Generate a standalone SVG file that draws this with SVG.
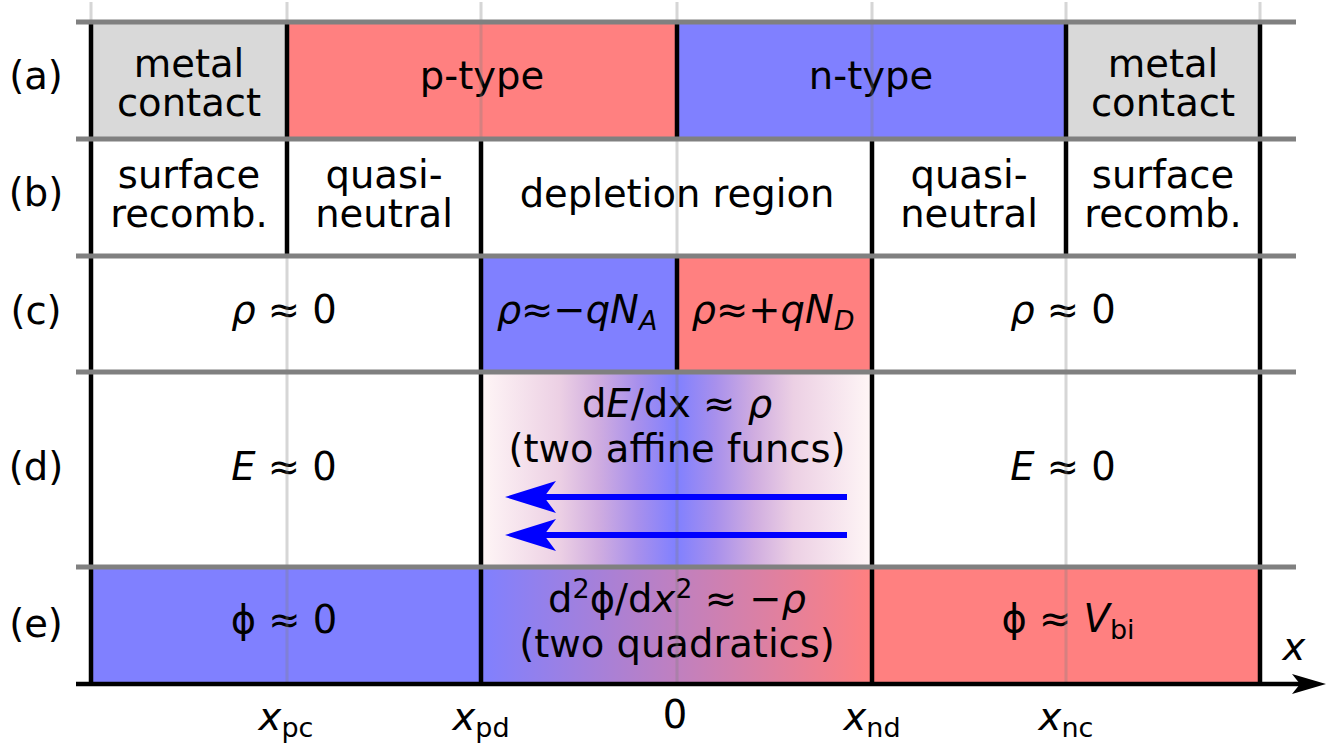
<svg xmlns="http://www.w3.org/2000/svg" width="1335" height="746" viewBox="0 0 1335 746">
<defs>
<style>
text{font-family:"DejaVu Sans","Liberation Sans",sans-serif;font-size:38.5px;fill:#000;text-anchor:middle}
.it{font-style:italic}
.sub{font-size:27px}
.red{fill:#ff8080}
.blue{fill:#8080ff}
.gray{fill:#d9d9d9}
.bl{stroke:#000;stroke-width:4.5;fill:none}
.gl{stroke:#808080;stroke-width:5;fill:none}
.fl{stroke:#808080;stroke-width:3;stroke-opacity:0.32;fill:none}
</style>
<linearGradient id="gd" x1="0" x2="1" y1="0" y2="0">
<stop offset="0" stop-color="#fff6f6"/>
<stop offset="0.2" stop-color="#ecd0e4"/>
<stop offset="0.3" stop-color="#d0ade0"/>
<stop offset="0.4" stop-color="#a890ec"/>
<stop offset="0.5" stop-color="#8080ff"/>
<stop offset="0.6" stop-color="#a890ec"/>
<stop offset="0.7" stop-color="#d0ade0"/>
<stop offset="0.8" stop-color="#ecd0e4"/>
<stop offset="1" stop-color="#fff6f6"/>
</linearGradient>
<linearGradient id="ge" x1="0" x2="1" y1="0" y2="0">
<stop offset="0" stop-color="#8080ff"/>
<stop offset="1" stop-color="#ff8080"/>
</linearGradient>
</defs>
<rect width="1335" height="746" fill="#fff"/>

<g id="row-a">
<g id="a-metal-left"><rect class="gray" x="91" y="22" width="196" height="117"/><text><tspan x="189" y="77">metal</tspan><tspan x="189" y="116">contact</tspan></text></g>
<g id="a-ptype"><rect class="red" x="287" y="22" width="390" height="117"/><text x="482" y="89">p-type</text></g>
<g id="a-ntype"><rect class="blue" x="677" y="22" width="389" height="117"/><text x="871" y="89">n-type</text></g>
<g id="a-metal-right"><rect class="gray" x="1066" y="22" width="194" height="117"/><text><tspan x="1163" y="77">metal</tspan><tspan x="1163" y="116">contact</tspan></text></g>
</g>

<g id="row-b">
<g id="b-surf-left"><text><tspan x="189" y="188">surface</tspan><tspan x="189" y="227">recomb.</tspan></text></g>
<g id="b-qn-left"><text><tspan x="384" y="188">quasi-</tspan><tspan x="384" y="227">neutral</tspan></text></g>
<g id="b-depl"><text x="677" y="207">depletion region</text></g>
<g id="b-qn-right"><text><tspan x="969" y="188">quasi-</tspan><tspan x="969" y="227">neutral</tspan></text></g>
<g id="b-surf-right"><text><tspan x="1163" y="188">surface</tspan><tspan x="1163" y="227">recomb.</tspan></text></g>
</g>

<g id="row-c">
<g id="c-left"><text x="284" y="323"><tspan class="it">ρ</tspan> ≈ 0</text></g>
<g id="c-na"><rect class="blue" x="481" y="256" width="196" height="116"/><text x="577" y="323"><tspan class="it">ρ</tspan>≈−<tspan class="it">qN</tspan><tspan class="it sub" dy="7">A</tspan></text></g>
<g id="c-nd"><rect class="red" x="677" y="256" width="195" height="116"/><text x="773" y="323"><tspan class="it">ρ</tspan>≈+<tspan class="it">qN</tspan><tspan class="it sub" dy="7">D</tspan></text></g>
<g id="c-right"><text x="1063" y="323"><tspan class="it">ρ</tspan> ≈ 0</text></g>
</g>

<g id="row-d">
<g id="d-left"><text x="284" y="480"><tspan class="it">E</tspan> ≈ 0</text></g>
<g id="d-mid"><rect fill="url(#gd)" x="481" y="372" width="391" height="195"/><text x="677" y="417">d<tspan class="it">E</tspan>/dx ≈ <tspan class="it">ρ</tspan></text><text x="677" y="462">(two affine funcs)</text></g>
<g id="d-right"><text x="1063" y="480"><tspan class="it">E</tspan> ≈ 0</text></g>
</g>

<g id="row-e">
<g id="e-left"><rect class="blue" x="91" y="567" width="390" height="117"/><text x="284" y="633">ϕ ≈ 0</text></g>
<g id="e-mid"><rect fill="url(#ge)" x="481" y="567" width="391" height="117"/><text x="677" y="612">d<tspan class="sub" dy="-14">2</tspan><tspan dy="14">ϕ/d</tspan><tspan class="it">x</tspan><tspan class="sub" dy="-14">2</tspan><tspan dy="14"> ≈ −</tspan><tspan class="it">ρ</tspan></text><text x="677" y="657">(two quadratics)</text></g>
<g id="e-right"><rect class="red" x="872" y="567" width="388" height="117"/><text x="1068" y="632">ϕ ≈ <tspan class="it">V</tspan><tspan class="sub" dy="7">bi</tspan></text></g>
</g>

<g id="faint-lines">
<path class="fl" d="M91,2V683M287,2V683M481,2V683M677,2V683M872,2V683M1066,2V683M1260,2V683"/>
</g>

<g id="borders">
<path class="bl" d="M91,22V684M1260,22V684M287,22V256M677,22V139M1066,22V256M481,139V686M872,139V686M677,256V372"/>
<path class="gl" d="M76,22H1296M76,139H1296M76,256H1296M76,372H1296M76,567H1296"/>
</g>

<g id="row-labels">
<text x="36" y="89">(a)</text>
<text x="36" y="206">(b)</text>
<text x="36" y="324">(c)</text>
<text x="36" y="480">(d)</text>
<text x="36" y="637">(e)</text>
</g>

<g id="connectors">
<path d="M847,497H535M847,535H535" stroke="#0000ff" stroke-width="6" fill="none"/>
<path d="M505,497L556,481L544,497L556,513Z" fill="#0000ff"/>
<path d="M505,535L556,519L544,535L556,551Z" fill="#0000ff"/>
<path d="M76,684H1305" stroke="#000" stroke-width="4.5" fill="none"/>
<path d="M1326,684L1292,674L1300,684L1292,694Z" fill="#000"/>
</g>

<g id="axis-labels">
<text class="it" x="1294" y="660">x</text>
<text x="286" y="730"><tspan class="it">x</tspan><tspan class="sub" dy="7">pc</tspan></text>
<text x="481" y="730"><tspan class="it">x</tspan><tspan class="sub" dy="7">pd</tspan></text>
<text x="675" y="728">0</text>
<text x="872" y="730"><tspan class="it">x</tspan><tspan class="sub" dy="7">nd</tspan></text>
<text x="1066" y="730"><tspan class="it">x</tspan><tspan class="sub" dy="7">nc</tspan></text>
</g>
</svg>
